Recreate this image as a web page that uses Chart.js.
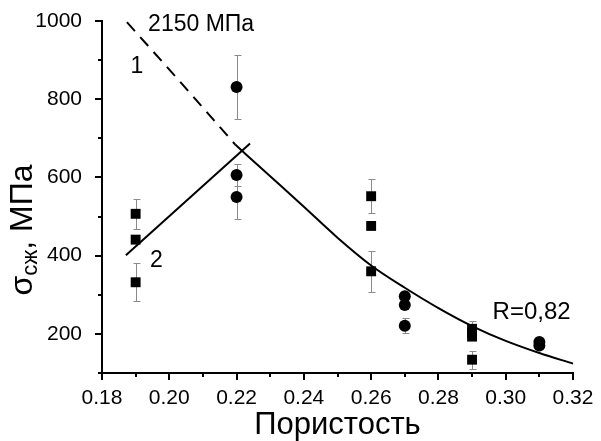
<!DOCTYPE html>
<html>
<head>
<meta charset="utf-8">
<script src="https://cdn.jsdelivr.net/npm/chart.js@4.4.1/dist/chart.umd.min.js"></script>
<style>
  html, body { margin: 0; padding: 0; background: #fff; }
  #wrap { width: 601px; height: 441px; }
</style>
</head>
<body>
<div id="wrap"><canvas id="chart" width="601" height="441"></canvas></div>
<script>
// DATA (porosity vs compressive strength, MPa)
const squareX   = [0.19, 0.19, 0.19, 0.26, 0.26, 0.26, 0.29, 0.29, 0.29, 0.29];
const squareY   = [507, 441, 332, 552, 476, 360, 213, 202, 193, 134];
const squareErr = [38, 0, 48, 43, 0, 52, 19, 0, 0, 23];

const circleX   = [0.22, 0.22, 0.22, 0.27, 0.27, 0.27, 0.31, 0.31];
const circleY   = [831, 606, 550, 296, 274, 221, 179, 170];
const circleErr = [82, 29, 57, 0, 0, 20, 0, 0];

// curve 1 (dashed extrapolation + solid fit)
const curve1DashX = [0.1874, 0.2032, 0.2196];
const curve1DashY = [997, 845, 684];
const curve1X = [0.2196, 0.23, 0.24, 0.25, 0.26, 0.27, 0.28, 0.29, 0.30, 0.31, 0.32];
const curve1Y = [684, 603, 525, 446, 375, 318, 266, 220, 182, 151, 124];

// line 2
const line2X = [0.1871, 0.2240];
const line2Y = [401, 687];

// axes
const xTicks = [0.18, 0.20, 0.22, 0.24, 0.26, 0.28, 0.30, 0.32];
const xMinor = [0.19, 0.21, 0.23, 0.25, 0.27, 0.29, 0.31];
const yTicks = [200, 400, 600, 800, 1000];
const yMinor = [100, 300, 500, 700, 900];

// text labels on the plot, in data coordinates
const notes = [
  { text: '2150 МПа', x: 0.1937, y: 990, size: 23, align: 'left' },
  { text: '1', x: 0.1904, y: 883, size: 23, align: 'center' },
  { text: '2', x: 0.1962, y: 387, size: 23, align: 'center' },
  { text: 'R=0,82', x: 0.2961, y: 256, size: 24, align: 'left' }
];

const FONT = 'Arial, "Liberation Sans", sans-serif';

function pts(xs, ys) {
  return xs.map((v, i) => ({ x: v, y: ys[i] }));
}

// error bars, tick marks, y title, notes
const extras = {
  id: 'extras',
  beforeDatasetsDraw(chart) {
    const { ctx, scales: { x, y } } = chart;
    ctx.save();
    ctx.strokeStyle = '#8a8a8a';
    ctx.lineWidth = 1;
    const bars = (xs, ys, es) => xs.forEach((v, i) => {
      if (!es[i]) return;
      const px = Math.round(x.getPixelForValue(v)) + 0.5;
      const top = Math.round(y.getPixelForValue(ys[i] + es[i])) + 0.5;
      const bot = Math.round(y.getPixelForValue(ys[i] - es[i])) + 0.5;
      ctx.beginPath();
      ctx.moveTo(px, top); ctx.lineTo(px, bot);
      ctx.moveTo(px - 3, top); ctx.lineTo(px + 4, top);
      ctx.moveTo(px - 3, bot); ctx.lineTo(px + 4, bot);
      ctx.stroke();
    });
    bars(squareX, squareY, squareErr);
    bars(circleX, circleY, circleErr);
    ctx.restore();
  },
  afterDraw(chart) {
    const { ctx, chartArea: a, scales: { x, y } } = chart;
    ctx.save();
    ctx.strokeStyle = '#000';
    ctx.lineWidth = 2;
    ctx.beginPath();
    xTicks.forEach(v => { const p = Math.round(x.getPixelForValue(v)); ctx.moveTo(p, a.bottom); ctx.lineTo(p, a.bottom + 7); });
    xMinor.forEach(v => { const p = Math.round(x.getPixelForValue(v)); ctx.moveTo(p, a.bottom); ctx.lineTo(p, a.bottom + 4); });
    yTicks.forEach(v => { const p = Math.round(y.getPixelForValue(v)); ctx.moveTo(a.left, p); ctx.lineTo(a.left - 7, p); });
    yMinor.forEach(v => { const p = Math.round(y.getPixelForValue(v)); ctx.moveTo(a.left, p); ctx.lineTo(a.left - 4, p); });
    ctx.stroke();

    // y title with subscript
    ctx.fillStyle = '#000';
    ctx.translate(32, 230);
    ctx.rotate(-Math.PI / 2);
    ctx.textBaseline = 'alphabetic';
    ctx.textAlign = 'left';
    const big = '32px ' + FONT, small = '22px ' + FONT;
    ctx.font = big; const w1 = ctx.measureText('σ').width;
    ctx.font = small; const w2 = ctx.measureText('сж').width;
    ctx.font = big; const w3 = ctx.measureText(', МПа').width;
    let sx = -(w1 + w2 + w3) / 2;
    ctx.font = big; ctx.fillText('σ', sx, 0); sx += w1;
    ctx.font = small; ctx.fillText('сж', sx, 5); sx += w2;
    ctx.font = big; ctx.fillText(', МПа', sx, 0);
    ctx.setTransform(1, 0, 0, 1, 0, 0);

    // notes
    ctx.textBaseline = 'middle';
    notes.forEach(n => {
      ctx.font = n.size + 'px ' + FONT;
      ctx.textAlign = n.align;
      ctx.fillText(n.text, x.getPixelForValue(n.x), y.getPixelForValue(n.y));
    });
    ctx.restore();
  }
};

const ctx = document.getElementById('chart').getContext('2d');

new Chart(ctx, {
  type: 'scatter',
  data: {
    datasets: [{
      data: pts(curve1DashX, curve1DashY),
      showLine: true,
      borderColor: '#000',
      borderWidth: 2,
      borderDash: [12, 8],
      pointRadius: 0,
      clip: false
    }, {
      data: pts(curve1X, curve1Y),
      showLine: true,
      borderColor: '#000',
      borderWidth: 2,
      cubicInterpolationMode: 'monotone',
      pointRadius: 0,
      clip: false
    }, {
      data: pts(line2X, line2Y),
      showLine: true,
      borderColor: '#000',
      borderWidth: 2,
      pointRadius: 0,
      clip: false
    }, {
      data: pts(squareX, squareY),
      pointStyle: 'rect',
      pointRadius: 7,
      backgroundColor: '#000',
      borderColor: '#000',
      borderWidth: 0,
      clip: false
    }, {
      data: pts(circleX, circleY),
      pointStyle: 'circle',
      pointRadius: 6,
      backgroundColor: '#000',
      borderColor: '#000',
      borderWidth: 0,
      clip: false
    }]
  },
  options: {
    responsive: false,
    animation: false,
    devicePixelRatio: 1,
    layout: { padding: { top: 21, right: 28, left: 0, bottom: 0 } },
    plugins: { legend: { display: false }, tooltip: { enabled: false } },
    scales: {
      x: {
        type: 'linear',
        min: 0.18,
        max: 0.32,
        afterBuildTicks: s => { s.ticks = xTicks.map(v => ({ value: v })); },
        afterFit: s => { s.height = 68; s.paddingLeft = 0; s.paddingRight = 0; },
        grid: { display: false, drawTicks: false, tickLength: 0 },
        border: { display: true, color: '#000', width: 2 },
        ticks: {
          color: '#000',
          padding: 13,
          maxRotation: 0,
          font: { family: FONT, size: 21 },
          callback: v => v.toFixed(2)
        },
        title: {
          display: true,
          text: 'Пористость',
          color: '#000',
          font: { family: FONT, size: 31 },
          padding: { top: 0, bottom: -3 }
        }
      },
      y: {
        type: 'linear',
        min: 100,
        max: 1000,
        afterBuildTicks: s => { s.ticks = yTicks.map(v => ({ value: v })); },
        afterFit: s => { s.width = 102; s.paddingTop = 0; s.paddingBottom = 0; },
        grid: { display: false, drawTicks: false, tickLength: 0 },
        border: { display: true, color: '#000', width: 2 },
        ticks: {
          color: '#000',
          padding: 20,
          font: { family: FONT, size: 21 },
          callback: v => String(v)
        }
      }
    }
  },
  plugins: [extras]
});
</script>
</body>
</html>
